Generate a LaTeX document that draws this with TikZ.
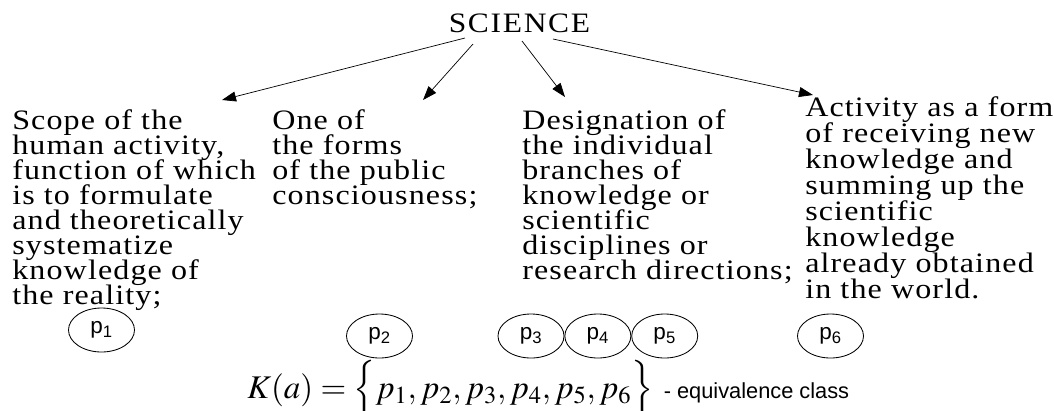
\documentclass[tikz,border=0pt]{standalone}
\usepackage{mathptmx}
\usepackage{fontspec}
\setmainfont{Liberation Serif}
\newfontfamily\descfont[FakeStretch=1.14,LetterSpace=4]{Liberation Serif}
\newfontfamily\titlefont[FakeStretch=1.12,LetterSpace=6]{Liberation Serif}
\newfontfamily\labelfont{Liberation Sans}
\usetikzlibrary{arrows.meta,shapes.geometric,positioning}

\tikzset{
  desc/.style={anchor=north west, align=left, inner sep=0pt,
    font={\descfont\fontsize{20}{17.8}\selectfont\lineskiplimit=-20pt}},
  elem/.style={draw, ellipse, line width=0.6pt, minimum width=1.65cm,
    minimum height=1.1cm, inner sep=0pt,
    font={\labelfont\fontsize{16}{18}\selectfont}},
  arr/.style={-{Triangle[length=0.35cm,width=0.25cm]}, line width=0.5pt}
}

\begin{document}
\begin{tikzpicture}[x=0.025cm,y=-0.025cm]
  \useasboundingbox (0,0) rectangle (1054,410);

  % heading
  \node[anchor=base, inner sep=0pt, font={\titlefont\fontsize{20}{22}\selectfont}] (sci) at (519.5,32) {SCIENCE};

  % the four meanings
  \node[desc] (c1) at (12,109) {Scope of the\\human activity,\\function of which\\is to formulate\\and theoretically\\systematize\\knowledge of\\the reality;};
  \node[desc] (c2) at (272,109) {One of\\the forms\\of the public\\consciousness;};
  \node[desc] (c3) at (522,109) {Designation of\\the individual\\branches of\\knowledge or\\scientific\\disciplines or\\research directions;};
  \node[desc, font={\descfont\fontsize{20}{18.5}\selectfont\lineskiplimit=-20pt}] (c4) at (805,96) {Activity as a form\\of receiving new\\knowledge and\\summing up the\\scientific\\knowledge\\already obtained\\in the world.};

  % arrows
  \coordinate (s1) at (465,38);
  \coordinate (s2) at (473,44);
  \coordinate (s3) at (522,41);
  \coordinate (s4) at (553,39);
  \coordinate (e1) at (222,100);
  \coordinate (e2) at (423,100);
  \coordinate (e3) at (565,97);
  \coordinate (e4) at (813,95);
  \draw[arr] (s1) -- (e1);
  \draw[arr] (s2) -- (e2);
  \draw[arr] (s3) -- (e3);
  \draw[arr] (s4) -- (e4);

  % elements
  \node[elem] (p1) at (101.5,330) {p\textsubscript{1}};
  \node[elem] (p2) at (379.5,336) {p\textsubscript{2}};
  \node[elem] (p3) at (531,336) {p\textsubscript{3}};
  \node[elem, right=0pt of p3] (p4) {p\textsubscript{4}};
  \node[elem, right=0pt of p4] (p5) {p\textsubscript{5}};
  \node[elem] (p6) at (830.5,336) {p\textsubscript{6}};

  % class
  \node[anchor=base west, inner sep=0pt, font={\fontsize{23.5}{27}\selectfont}] (frm) at (247,398)
    {$K(a)=\left\{\rule[-0.35em]{0pt}{1.3em}p_1, p_2, p_3, p_4, p_5, p_6\right\}$};
  \node[anchor=base west, inner sep=0pt, font={\labelfont\fontsize{15.5}{18}\selectfont}] (cls) at ([xshift=7pt]frm.base east)
    {- equivalence class};
\end{tikzpicture}
\end{document}
